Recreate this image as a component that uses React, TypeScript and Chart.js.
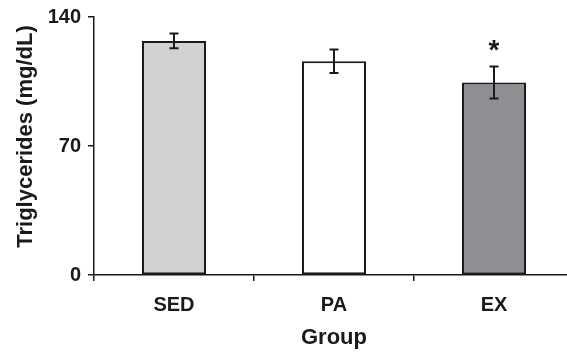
import React, { useEffect, useRef } from "react";
import { Chart, registerables } from "chart.js";

Chart.register(...registerables);

const categories = ["SED", "PA", "EX"];
const means = [127, 116, 104.5];
const errors = [4, 6.4, 8.7];
const significant = [false, false, true];
const barColors = ["#d0d1d3", "#ffffff", "#8e8f92"];
const yTicks = [0, 70, 140];
const yTitle = "Triglycerides (mg/dL)";
const xTitle = "Group";

const FONT = "'Liberation Sans', Arial, sans-serif";
const INK = "#1a1a1a";

const errorBarPlugin = {
  id: "errorBars",
  afterDatasetsDraw(chart: any) {
    const ctx = chart.ctx;
    const meta = chart.getDatasetMeta(0);
    const y = chart.scales.y;
    ctx.save();
    ctx.strokeStyle = INK;
    ctx.lineWidth = 2;
    meta.data.forEach((bar: any, i: number) => {
      const x = bar.x;
      const top = y.getPixelForValue(means[i] + errors[i]);
      const bot = y.getPixelForValue(means[i] - errors[i]);
      const cap = 4.5;
      ctx.beginPath();
      ctx.moveTo(x, top);
      ctx.lineTo(x, bot);
      ctx.moveTo(x - cap, top);
      ctx.lineTo(x + cap, top);
      ctx.moveTo(x - cap, bot);
      ctx.lineTo(x + cap, bot);
      ctx.stroke();
      if (significant[i]) {
        ctx.fillStyle = INK;
        ctx.font = `bold 28px ${FONT}`;
        ctx.textAlign = "center";
        ctx.textBaseline = "alphabetic";
        ctx.fillText("*", x, top - 7);
      }
    });
    // y-axis title (slightly above centre, as in the original figure)
    const area = chart.chartArea;
    ctx.save();
    ctx.translate(26, (area.top + area.bottom) / 2 - 9.5);
    ctx.rotate(-Math.PI / 2);
    ctx.fillStyle = INK;
    ctx.font = `bold 22px ${FONT}`;
    ctx.textAlign = "center";
    ctx.textBaseline = "middle";
    ctx.fillText(yTitle, 0, 0);
    ctx.restore();
    ctx.restore();
  },
};

export default function App() {
  const ref = useRef<HTMLCanvasElement>(null);
  useEffect(() => {
    document.body.style.margin = "0";
    document.body.style.overflow = "hidden";
    const chart = new Chart(ref.current!, {
      type: "bar",
      data: {
        labels: categories,
        datasets: [
          {
            data: means,
            backgroundColor: barColors,
            borderColor: INK,
            borderWidth: 2,
            borderSkipped: false,
            barPercentage: 0.4,
            categoryPercentage: 1,
          },
        ],
      },
      options: {
        responsive: false,
        animation: false,
        layout: { padding: { left: 0, right: 2, top: 17, bottom: 0 } },
        plugins: { legend: { display: false }, tooltip: { enabled: false } },
        scales: {
          x: {
            grid: {
              display: true,
              drawOnChartArea: false,
              drawTicks: true,
              tickLength: 6,
              color: INK,
              lineWidth: 1.5,
            },
            border: { display: true, color: INK, width: 1.5 },
            ticks: {
              color: INK,
              font: { family: FONT, size: 20, weight: "bold" },
              padding: 12,
            },
            title: {
              display: true,
              text: xTitle,
              color: INK,
              font: { family: FONT, size: 22, weight: "bold" },
              padding: { top: 0, bottom: 3 },
            },
            afterFit: (s: any) => {
              s.height = 79;
              s.paddingLeft = 0;
              s.paddingRight = 0;
            },
          },
          y: {
            min: 0,
            max: 140,
            afterBuildTicks: (s: any) => {
              s.ticks = yTicks.map((v) => ({ value: v }));
            },
            grid: {
              display: true,
              drawOnChartArea: false,
              drawTicks: true,
              tickLength: 6,
              color: INK,
              lineWidth: 1.5,
            },
            border: { display: true, color: INK, width: 1.5 },
            ticks: {
              color: INK,
              font: { family: FONT, size: 20, weight: "bold" },
              padding: 7,
            },
            afterFit: (s: any) => {
              s.width = 94;
              s.paddingTop = 0;
              s.paddingBottom = 0;
            },
          },
        },
      },
      plugins: [errorBarPlugin],
    });
    return () => chart.destroy();
  }, []);
  return <canvas ref={ref} width={576} height={354} style={{ display: "block" }} />;
}
